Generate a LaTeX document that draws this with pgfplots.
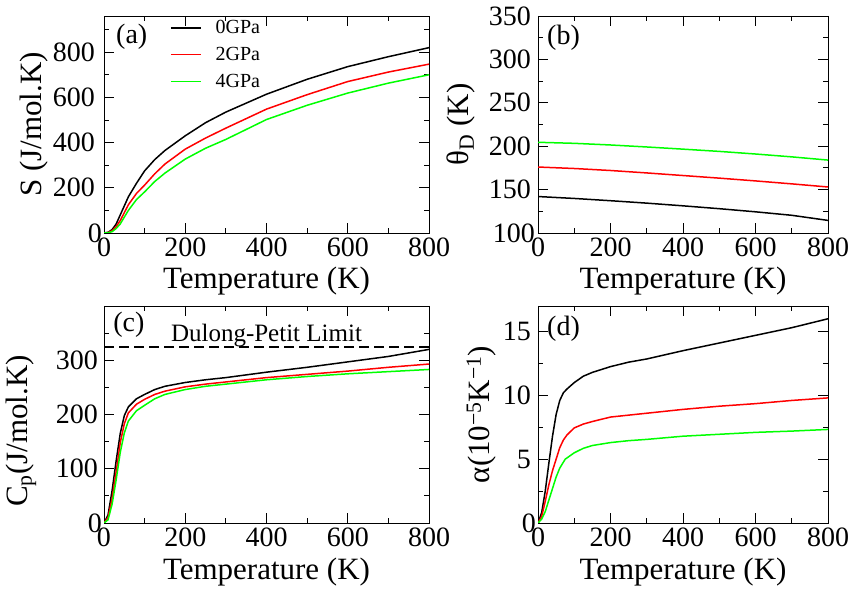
\documentclass[border=0pt]{standalone}
\usepackage{fontspec}
\setmainfont{Liberation Serif}
\newfontfamily\tnr{Liberation Serif}
\usepackage{pgfplots}
\pgfplotsset{compat=1.18}

\definecolor{gpa0}{RGB}{0,0,0}
\definecolor{gpa2}{RGB}{255,0,0}
\definecolor{gpa4}{RGB}{0,255,0}

\pgfplotsset{
  panel/.style={
    scale only axis, height=217pt,
    xmin=0, xmax=800,
    xtick={0,200,400,600,800}, minor xtick={100,300,500,700},
    tick align=inside, major tick length=10pt, minor tick length=5pt,
    every tick/.style={black, line width=0.8pt},
    axis line style={line width=0.8pt},
    /pgf/number format/assume math mode=true,
    tick label style={font=\tnr\fontsize{28}{28}\selectfont},
    xticklabel style={anchor=north, inner sep=0pt, yshift=-5pt},
    yticklabel style={anchor=east, inner sep=0pt},
    label style={font=\tnr\fontsize{31}{31}\selectfont},
    xlabel={Temperature (K)},
    xlabel style={at={(axis description cs:0.5,0)}, anchor=base, yshift=-56pt},
    every axis plot/.append style={line width=1.5pt},
  },
}
\tikzset{plabel/.style={anchor=west, inner sep=0pt, font=\tnr\fontsize{28}{28}\selectfont}}

\begin{document}
\begin{tikzpicture}
\path[use as bounding box] (0,0) rectangle (858pt,596pt);

% (a) entropy
\begin{axis}[panel, at={(104pt,363pt)}, anchor=south west, width=325pt,
  ymin=0, ymax=960, ytick={0,200,400,600,800},
  yticklabels={0\kern-7pt,200,400,600,800},
  minor ytick={100,300,500,700,900},
  yticklabel style={xshift=-9pt},
  ylabel={S (J/mol.K)},
  ylabel style={at={(axis description cs:-0.191,0.5)}, anchor=base},
  legend style={at={(axis description cs:0.203,0.822)}, anchor=west,
    draw=none, fill=none, inner sep=0pt, row sep=12pt, column sep=14pt,
    font=\tnr\fontsize{20}{20}\selectfont,
    nodes={inner sep=0pt}},
  legend cell align=left,
  legend image code/.code={\draw[#1] (0pt,0pt) -- (30pt,0pt);},
]
\addplot[gpa0] coordinates {(0,0) (10,3) (20,15) (30,40) (40,80) (50,120) (60,160)
  (80,220) (100,275) (125,325) (150,365) (200,430) (250,488) (300,535)
  (400,614) (500,680) (600,736) (700,780) (800,820)};
\addlegendentry{0GPa}
\addplot[gpa2] coordinates {(0,0) (10,2) (20,10) (30,28) (40,55) (50,90) (60,125)
  (80,175) (100,212) (125,262) (150,305) (200,371) (250,420) (300,464)
  (400,548) (500,612) (600,670) (700,712) (800,747)};
\addlegendentry{2GPa}
\addplot[gpa4] coordinates {(0,0) (10,1) (20,6) (30,20) (40,40) (50,70) (60,100)
  (80,148) (100,182) (125,228) (150,265) (200,327) (250,375) (300,414)
  (400,502) (500,565) (600,619) (700,663) (800,700)};
\addlegendentry{4GPa}
\node[plabel] at (axis description cs:0.037,0.903) {(a)};
\end{axis}

% (b) Debye temperature
\begin{axis}[panel, at={(538pt,363pt)}, anchor=south west, width=290pt,
  ymin=100, ymax=350, ytick={100,150,200,250,300,350},
  yticklabels={100\kern-4pt,150,200,250,300,350},
  minor ytick={125,175,225,275,325},
  yticklabel style={xshift=-7pt},
  ylabel={θ\textsubscript{D} (K)},
  ylabel style={at={(axis description cs:-0.241,0.5)}, anchor=base},
]
\addplot[gpa0] coordinates {(0,142) (100,139.8) (200,137.2) (300,134.4) (400,131.3)
  (500,128) (600,124.4) (700,120.4) (800,114.5)};
\addplot[gpa2] coordinates {(0,176) (100,174.3) (200,172) (300,169.2) (400,166.2)
  (500,163.2) (600,160) (700,156.6) (800,153)};
\addplot[gpa4] coordinates {(0,204.5) (100,203.3) (200,201.4) (300,199.1) (400,196.6)
  (500,194) (600,191) (700,187.7) (800,184)};
\node[plabel] at (axis description cs:0.031,0.899) {(b)};
\end{axis}

% (c) heat capacity
\begin{axis}[panel, at={(104pt,73pt)}, anchor=south west, width=325pt,
  ymin=0, ymax=400, ytick={0,100,200,300},
  yticklabels={0\kern-4pt,100,200,300},
  minor ytick={50,150,250,350},
  yticklabel style={xshift=-6pt},
  ylabel={C\textsubscript{p}(J/mol.K)},
  ylabel style={at={(axis description cs:-0.234,0.424)}, anchor=base},
]
\addplot[black, line width=1.8pt, dash pattern=on 10pt off 5pt] coordinates {(0,325) (800,325)};
\addplot[gpa0] coordinates {(0,0) (10,15) (20,60) (30,115) (40,165) (50,198) (60,214)
  (80,229) (100,237) (125,246) (150,252) (200,259) (250,264) (300,268)
  (400,278) (500,287) (600,297) (700,307) (800,320)};
\addplot[gpa2] coordinates {(0,0) (10,10) (20,45) (30,95) (40,148) (50,183) (60,203)
  (80,219) (100,228) (125,237) (150,243) (200,251) (250,256) (300,260)
  (400,268) (500,274) (600,280) (700,287) (800,293)};
\addplot[gpa4] coordinates {(0,0) (10,6) (20,35) (30,80) (40,130) (50,166) (60,188)
  (80,207) (100,217) (125,229) (150,237) (200,246) (250,252) (300,256)
  (400,264) (500,270) (600,275) (700,279) (800,283)};
\node[anchor=base, inner sep=0pt, font=\tnr\fontsize{25}{25}\selectfont]
  at (axis cs:400,334) {Dulong-Petit Limit};
\node[plabel] at (axis description cs:0.028,0.912) {(c)};
\end{axis}

% (d) thermal expansion
\begin{axis}[panel, at={(538pt,73pt)}, anchor=south west, width=290pt,
  ymin=0, ymax=17, ytick={0,5,10,15},
  yticklabels={0\kern-5pt,5,10,15},
  minor ytick={2.5,7.5,12.5},
  yticklabel style={xshift=-7pt},
  ylabel={α(10\textsuperscript{−5}K\textsuperscript{−1})},
  ylabel style={at={(axis description cs:-0.166,0.5)}, anchor=base},
]
\addplot[gpa0] coordinates {(0,0) (10,0.8) (20,2.5) (30,4.7) (40,6.8) (50,8.5) (60,9.6)
  (70,10.2) (80,10.5) (100,11.0) (125,11.5) (150,11.8) (200,12.25) (250,12.6)
  (300,12.85) (400,13.5) (500,14.1) (600,14.7) (700,15.3) (800,16.0)};
\addplot[gpa2] coordinates {(0,0) (10,0.5) (20,1.7) (30,3.0) (40,4.1) (50,5.0) (60,5.9)
  (70,6.5) (80,6.9) (100,7.45) (125,7.75) (150,7.95) (200,8.3) (250,8.45)
  (300,8.6) (400,8.9) (500,9.15) (600,9.35) (700,9.6) (800,9.8)};
\addplot[gpa4] coordinates {(0,0) (10,0.3) (20,0.9) (30,1.8) (40,2.7) (50,3.6) (60,4.3)
  (75,5.0) (100,5.5) (125,5.85) (150,6.07) (200,6.3) (250,6.45) (300,6.55)
  (400,6.8) (500,6.95) (600,7.1) (700,7.2) (800,7.33)};
\node[plabel] at (axis description cs:0.031,0.894) {(d)};
\end{axis}
\end{tikzpicture}
\end{document}
